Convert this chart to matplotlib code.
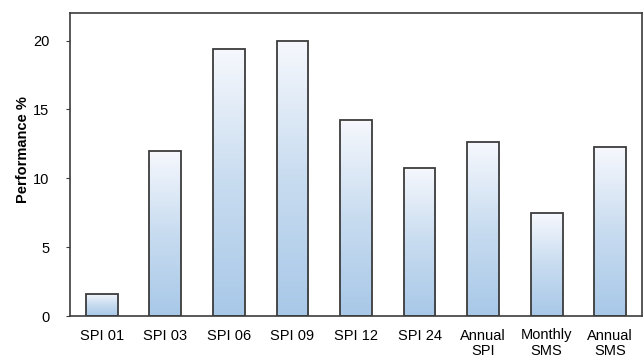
import numpy as np
import matplotlib.pyplot as plt
from matplotlib.colors import LinearSegmentedColormap

plt.rcParams['font.family'] = ['Liberation Sans', 'DejaVu Sans']

labels = ['SPI 01', 'SPI 03', 'SPI 06', 'SPI 09', 'SPI 12', 'SPI 24',
          'Annual\nSPI', 'Monthly\nSMS', 'Annual\nSMS']
perf = [1.6, 12.0, 19.35, 20.0, 14.25, 10.75, 12.6, 7.45, 12.25]

fig = plt.figure(figsize=(6.43, 3.62), dpi=100)
ax = fig.add_axes([70/643, 1-316/362, 572/643, 303/362])

x = np.arange(len(perf))
bars = ax.bar(x, perf, width=0.5, color='none', edgecolor='#3c3c3c',
              linewidth=1.3, zorder=3)

# vertical gradient fill, white at top to pale blue at bottom
cmap = LinearSegmentedColormap.from_list('grad', ['#a8c8e8', '#c8dcf0', '#f6f8fd'])
grad = np.linspace(0, 1, 256).reshape(-1, 1)
for b in bars:
    x0, y0 = b.get_x(), b.get_y()
    w, h = b.get_width(), b.get_height()
    im = ax.imshow(grad, cmap=cmap, aspect='auto', origin='lower',
                   extent=[x0, x0 + w, y0, y0 + h], zorder=2)
    im.set_clip_path(b)

ax.set_xlim(-0.5, len(perf) - 0.5)
ax.set_ylim(0, 22)
ax.set_yticks([0, 5, 10, 15, 20])
ax.set_xticks(x)
ax.set_xticklabels(labels, fontsize=10.5, linespacing=1.15, va='top')
ax.tick_params(axis='x', length=0, pad=9)
ax.tick_params(axis='y', length=3, labelsize=10.5, color='#3c3c3c', pad=12)
for s in ax.spines.values():
    s.set_color('#3c3c3c')
    s.set_linewidth(1.2)
ax.set_ylabel('Performance %', fontsize=10.5, fontweight='bold')
ax.yaxis.set_label_coords(-40/572, (316-150)/303)

fig.savefig('out.png', dpi=100)
